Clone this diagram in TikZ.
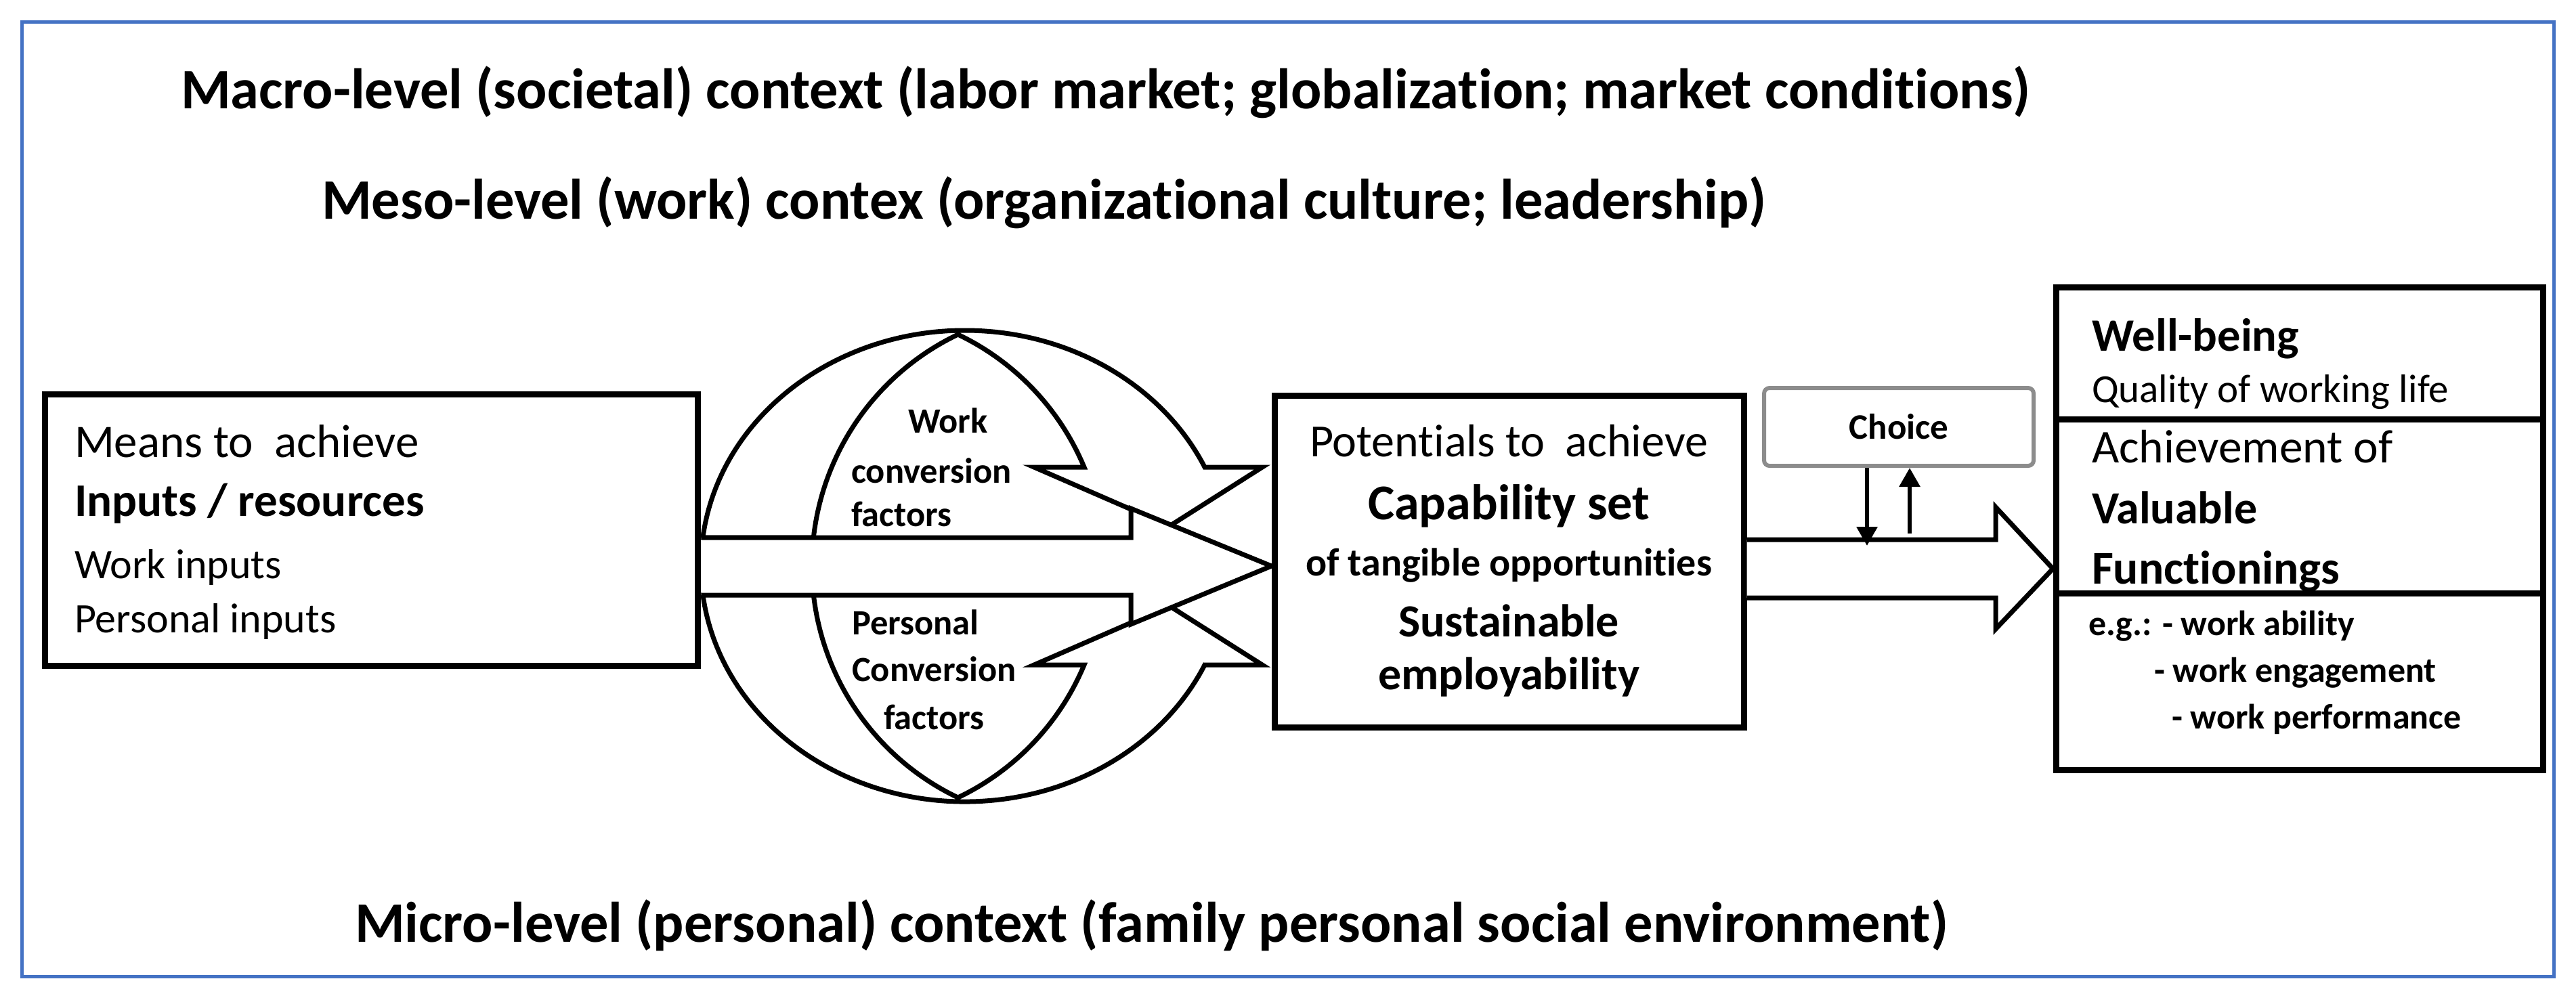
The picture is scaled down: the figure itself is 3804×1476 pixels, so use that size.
\documentclass[tikz,border=0pt]{standalone}
\usepackage{fontspec}
\setmainfont{Carlito}[Ligatures=NoCommon]
\usetikzlibrary{arrows.meta}
\definecolor{frameblue}{HTML}{4472C4}
\definecolor{choicegray}{HTML}{8C8C8C}
\newcommand{\setfs}[1]{\fontsize{#1}{#1}\selectfont}
\begin{document}
\begin{tikzpicture}[x=0.1pt,y=0.1pt,
  boxed/.style={draw,line width=0.9pt,fill=white,inner sep=0},
  band/.style={draw,line width=0.7pt,fill=white},
  lbl/.style={inner sep=0,anchor=base west},
  clbl/.style={inner sep=0,anchor=base},
  title/.style={lbl,font=\bfseries\setfs{8.45}},
  choicetip/.style={line width=0.6pt,-{Triangle[length=2.8pt,width=3pt]}}]
\useasboundingbox (0,0) rectangle (3804,-1476);
\draw[frameblue,line width=0.5pt] (32,-32) rectangle (3771,-1442);

\node[title] (macro) at (265,-160) {Macro-level (societal) context (labor market; globalization; market conditions)};
\node[title] (meso) at (473,-323) {Meso-level (work) contex (organizational culture; leadership)};
\node[title] (micro) at (522,-1391) {Micro-level (personal) context (family personal social environment)};

\node[boxed,minimum width=96.5pt,minimum height=40.1pt] (inbox) at (548.5,-782.5) {};
\node[boxed,minimum width=69.3pt,minimum height=49pt] (midbox) at (2228.5,-829) {};
\node[boxed,minimum width=71.9pt,minimum height=71.3pt] (outbox) at (3395.5,-780.5) {};
\draw[line width=0.9pt] (outbox.west |- 0,-619) -- (outbox.east |- 0,-619);
\draw[line width=0.9pt] (outbox.west |- 0,-876) -- (outbox.east |- 0,-876);

\draw[band] (1425,-836) ++(173.1:390 and 348) arc[start angle=173.1,end angle=24.8,x radius=390,y radius=348]
  -- (1864,-690) -- (1727,-777) -- (1527,-690) -- (1601,-690)
  arc[start angle=22.66,end angle=64.47,radius=379] arc[start angle=115.53,end angle=173.64,radius=379] -- cycle;
\draw[band] (1425,-836) ++(186.9:390 and 348) arc[start angle=186.9,end angle=335.2,x radius=390,y radius=348]
  -- (1864,-982) -- (1727,-895) -- (1527,-982) -- (1601,-982)
  arc[start angle=-22.66,end angle=-64.47,radius=379] arc[start angle=244.47,end angle=186.36,radius=379] -- cycle;
\draw[band] (inbox.east |- 0,-794) -- (1670,-794) -- (1670,-751) -- (midbox.west |- 0,-836)
  -- (1670,-922) -- (1670,-879) -- (inbox.east |- 0,-879);
\draw[band] (midbox.east |- 0,-797) -- (2947,-797) -- (2947,-749) -- (outbox.west |- 0,-840)
  -- (2947,-929) -- (2947,-883) -- (midbox.east |- 0,-883);

\node[draw=choicegray,fill=white,line width=0.6pt,rounded corners=0.8pt,minimum width=39.8pt,minimum height=11.5pt,inner sep=0,font=\bfseries\setfs{5.3}] (choice) at (2804,-630.5) {Choice};
\coordinate (dn) at (2757,-806);
\coordinate (up) at (2820,-788);
\draw[choicetip] (choice.south -| dn) -- (dn);
\draw[choicetip] (up) -- (choice.south -| up);

\node[lbl,font=\setfs{6.9}] (means) at (108,-675) {Means to\ \ achieve};
\node[lbl,font=\bfseries\setfs{6.9}] (inputs) at (108,-762) {Inputs / resources};
\node[lbl,font=\setfs{6.2}] (workin) at (108,-854) {Work inputs};
\node[lbl,font=\setfs{6.2}] (persin) at (108,-934) {Personal inputs};

\node[lbl,font=\bfseries\setfs{5.25}] (work1) at (1339,-639) {Work};
\node[lbl,font=\bfseries\setfs{5.25}] (work2) at (1255,-713) {conversion};
\node[lbl,font=\bfseries\setfs{5.25}] (work3) at (1255,-777) {factors};
\node[lbl,font=\bfseries\setfs{5.25}] (pers1) at (1256,-937) {Personal};
\node[lbl,font=\bfseries\setfs{5.25}] (pers2) at (1256,-1006) {Conversion};
\node[lbl,font=\bfseries\setfs{5.25}] (pers3) at (1303,-1077) {factors};

\node[clbl,font=\setfs{6.8}] (pot) at (2228,-674) {Potentials to\ \ achieve};
\node[clbl,font=\bfseries\setfs{7.4}] (capset) at (2228,-767) {Capability set};
\node[clbl,font=\bfseries\setfs{5.8}] (tang) at (2228,-850) {of tangible opportunities};
\node[clbl,font=\bfseries\setfs{6.8}] (sust) at (2228,-940) {Sustainable};
\node[clbl,font=\bfseries\setfs{6.8}] (empl) at (2228,-1018) {employability};

\node[lbl,font=\bfseries\setfs{6.85}] (well) at (3087,-518) {Well-being};
\node[lbl,font=\setfs{5.9}] (qual) at (3087,-594) {Quality of working life};
\node[lbl,font=\setfs{6.95}] (ach) at (3087,-683) {Achievement of};
\node[lbl,font=\bfseries\setfs{6.8}] (valu) at (3087,-773) {Valuable};
\node[lbl,font=\bfseries\setfs{6.95}] (func) at (3087,-862) {Functionings};
\node[lbl,font=\bfseries\setfs{5.2}] (eg1) at (3082,-938) {e.g.: - work ability};
\node[lbl,font=\bfseries\setfs{5.2}] (eg2) at (3179,-1007) {- work engagement};
\node[lbl,font=\bfseries\setfs{5.2}] (eg3) at (3205,-1076) {- work performance};
\end{tikzpicture}
\end{document}
